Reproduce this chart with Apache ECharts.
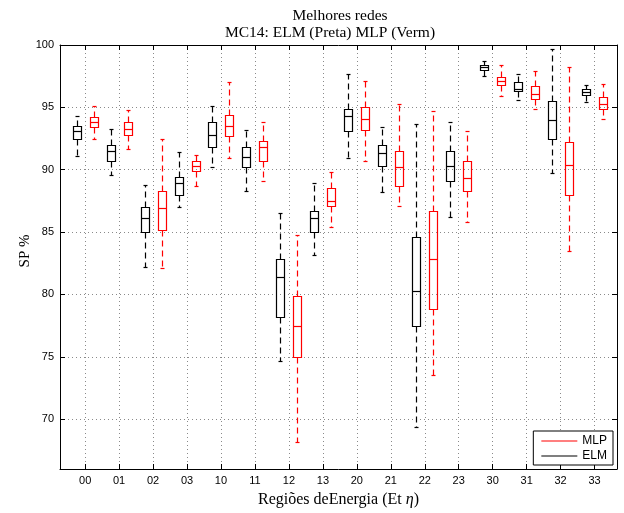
<!DOCTYPE html>
<html>
<head>
<meta charset="utf-8">
<script src="https://cdn.jsdelivr.net/npm/echarts@6/dist/echarts.min.js"></script>
<style>
  html, body { margin: 0; padding: 0; background: #fff; }
  #chart { width: 624px; height: 513px; }
</style>
</head>
<body>
<div id="chart"></div>
<script>
// regioes de energia (Et, eta)
var categories = ['00','01','02','03','10','11','12','13','20','21','22','23','30','31','32','33'];

// ELM (preta)
var elmMin    = [91.1, 89.6, 82.2, 87.0, 90.2, 88.3, 74.7, 83.2, 90.9, 88.2, 69.4, 86.2, 97.5, 95.6, 89.7, 95.4];
var elmQ1     = [92.5, 90.7, 85.0, 88.0, 91.8, 90.2, 78.2, 85.0, 93.1, 90.3, 77.5, 89.1, 98.0, 96.3, 92.5, 96.0];
var elmMedian = [93.1, 91.5, 86.1, 88.9, 92.8, 91.0, 81.4, 86.1, 94.3, 91.3, 80.3, 90.3, 98.2, 96.5, 94.0, 96.2];
var elmQ3     = [93.5, 92.0, 87.0, 89.4, 93.8, 91.8, 82.8, 86.7, 94.9, 92.0, 84.6, 91.5, 98.4, 97.0, 95.5, 96.5];
var elmMax    = [94.3, 93.3, 88.8, 91.4, 95.1, 93.2, 86.5, 88.9, 97.7, 93.4, 93.7, 93.8, 98.7, 97.7, 99.7, 96.8];

// MLP (vermelha)
var mlpMin    = [92.5, 91.7, 82.1, 88.7, 90.9, 89.1, 68.2, 85.4, 90.7, 87.1, 73.5, 85.8, 95.9, 94.9, 83.5, 94.1];
var mlpQ1     = [93.4, 92.8, 85.2, 89.9, 92.7, 90.7, 75.0, 87.1, 93.2, 88.7, 78.8, 88.3, 96.8, 95.7, 88.0, 94.9];
var mlpMedian = [93.8, 93.3, 86.9, 90.3, 93.5, 91.8, 77.5, 87.5, 94.1, 90.2, 82.8, 89.3, 97.1, 96.1, 90.4, 95.3];
var mlpQ3     = [94.2, 93.8, 88.3, 90.7, 94.4, 92.3, 79.9, 88.5, 95.0, 91.5, 86.7, 90.7, 97.4, 96.7, 92.2, 95.8];
var mlpMax    = [95.1, 94.8, 92.5, 91.2, 97.0, 93.8, 84.8, 89.8, 97.1, 95.3, 94.7, 93.1, 98.4, 97.9, 98.2, 96.9];

var yTicks = [70, 75, 80, 85, 90, 95, 100];
var xTicks = categories.map(function (c, i) { return i; });

function buildData(lo, q1, med, q3, hi) {
  return categories.map(function (c, i) {
    return [i, lo[i], q1[i], med[i], q3[i], hi[i]];
  });
}

function boxRenderer(dx, color) {
  return function (params, api) {
    var x = api.value(0);
    var pLow = api.coord([x, api.value(1)]);
    var pQ1 = api.coord([x, api.value(2)]);
    var pMed = api.coord([x, api.value(3)]);
    var pQ3 = api.coord([x, api.value(4)]);
    var pHigh = api.coord([x, api.value(5)]);
    var cx = Math.round(pLow[0] + dx) + 0.5;
    var hw = 4, cap = 2;
    var ry = function (p) { return Math.round(p[1]) + 0.5; };
    var solid = { stroke: color, lineWidth: 1.2, fill: null };
    var dashed = { stroke: color, lineWidth: 1.2, lineDash: [6, 4], fill: null };
    return {
      type: 'group',
      children: [
        { type: 'line', shape: { x1: cx, y1: ry(pQ3), x2: cx, y2: ry(pHigh) }, style: dashed },
        { type: 'line', shape: { x1: cx, y1: ry(pQ1), x2: cx, y2: ry(pLow) }, style: dashed },
        { type: 'line', shape: { x1: cx - cap, y1: ry(pHigh), x2: cx + cap, y2: ry(pHigh) }, style: solid },
        { type: 'line', shape: { x1: cx - cap, y1: ry(pLow), x2: cx + cap, y2: ry(pLow) }, style: solid },
        { type: 'rect', shape: { x: cx - hw, y: ry(pQ3), width: 2 * hw, height: ry(pQ1) - ry(pQ3) }, style: { stroke: color, fill: 'none', lineWidth: 1.2 } },
        { type: 'line', shape: { x1: cx - hw, y1: ry(pMed), x2: cx + hw, y2: ry(pMed) }, style: solid }
      ]
    };
  };
}

var chart = echarts.init(document.getElementById('chart'));

var gridLine = { show: true, lineStyle: { color: '#8a8a8a', type: [1, 3], width: 1 } };
var axisLineBlack = { show: true, onZero: false, lineStyle: { color: '#000', width: 1 } };
var serif = 'Liberation Serif';

var option = {
  animation: false,
  backgroundColor: '#fff',
  title: [
    {
      text: 'Melhores redes',
      left: 335,
      top: 3,
      textAlign: 'center',
      textStyle: { fontFamily: serif, fontWeight: 'normal', fontSize: 15.5, color: '#000' }
    },
    {
      text: 'MC14: ELM (Preta) MLP (Verm)',
      left: 325,
      top: 20,
      textAlign: 'center',
      textStyle: { fontFamily: serif, fontWeight: 'normal', fontSize: 15.5, color: '#000' }
    }
  ],
  legend: {
    orient: 'vertical',
    right: 11,
    top: 431,
    data: [
      { name: 'MLP', icon: 'rect' },
      { name: 'ELM', icon: 'rect' }
    ],
    itemWidth: 36,
    itemHeight: 1,
    itemGap: 3,
    padding: [4, 6, 3, 8],
    backgroundColor: '#fff',
    borderColor: '#000',
    borderWidth: 1,
    borderRadius: 0,
    textStyle: { fontFamily: 'Liberation Sans', fontSize: 12, color: '#000' }
  },
  grid: { left: 60, right: 7, top: 45, bottom: 41 },
  xAxis: [
    {
      type: 'value',
      min: -0.74,
      max: 15.66,
      position: 'bottom',
      axisLine: axisLineBlack,
      axisTick: { show: true, inside: true, length: 5, customValues: xTicks, lineStyle: { color: '#000' } },
      axisLabel: {
        customValues: xTicks,
        margin: 6,
        fontFamily: 'Liberation Sans',
        fontSize: 11,
        color: '#000',
        formatter: function (v) { return categories[Math.round(v)]; }
      },
      splitLine: gridLine,
      name: '{n|Regiões deEnergia (Et }{i|η}{n|)}',
      nameLocation: 'middle',
      nameGap: 23,
      nameTextStyle: {
        rich: {
          n: { fontFamily: serif, fontSize: 16, color: '#000' },
          i: { fontFamily: serif, fontStyle: 'italic', fontSize: 16, color: '#000' }
        }
      }
    },
    {
      type: 'value',
      min: -0.74,
      max: 15.66,
      position: 'top',
      axisLine: axisLineBlack,
      axisTick: { show: true, inside: true, length: 5, customValues: xTicks, lineStyle: { color: '#000' } },
      axisLabel: { show: false },
      splitLine: { show: false }
    }
  ],
  yAxis: [
    {
      type: 'value',
      min: 66,
      max: 100,
      position: 'left',
      axisLine: axisLineBlack,
      axisTick: { show: true, inside: true, length: 5, customValues: yTicks, lineStyle: { color: '#000' } },
      axisLabel: {
        customValues: yTicks,
        margin: 6,
        fontFamily: 'Liberation Sans',
        fontSize: 11,
        color: '#000'
      },
      splitLine: gridLine,
      name: 'SP %',
      nameLocation: 'middle',
      nameGap: 27,
      nameMoveOverlap: false,
      nameTextStyle: { fontFamily: serif, fontSize: 15, color: '#000', padding: [0, 0, 0, 12] }
    },
    {
      type: 'value',
      min: 66,
      max: 100,
      position: 'right',
      axisLine: axisLineBlack,
      axisTick: { show: true, inside: true, length: 5, customValues: yTicks, lineStyle: { color: '#000' } },
      axisLabel: { show: false },
      splitLine: { show: false }
    }
  ],
  series: [
    {
      name: 'ELM',
      type: 'custom',
      xAxisIndex: 0,
      yAxisIndex: 0,
      itemStyle: { color: '#000' },
      renderItem: boxRenderer(-8.5, '#000'),
      encode: { x: 0, y: [1, 2, 3, 4, 5] },
      data: buildData(elmMin, elmQ1, elmMedian, elmQ3, elmMax),
      z: 3
    },
    {
      name: 'MLP',
      type: 'custom',
      xAxisIndex: 0,
      yAxisIndex: 0,
      itemStyle: { color: '#ff0000' },
      renderItem: boxRenderer(8.5, '#ff0000'),
      encode: { x: 0, y: [1, 2, 3, 4, 5] },
      data: buildData(mlpMin, mlpQ1, mlpMedian, mlpQ3, mlpMax),
      z: 3
    }
  ]
};

chart.setOption(option);
</script>
</body>
</html>
